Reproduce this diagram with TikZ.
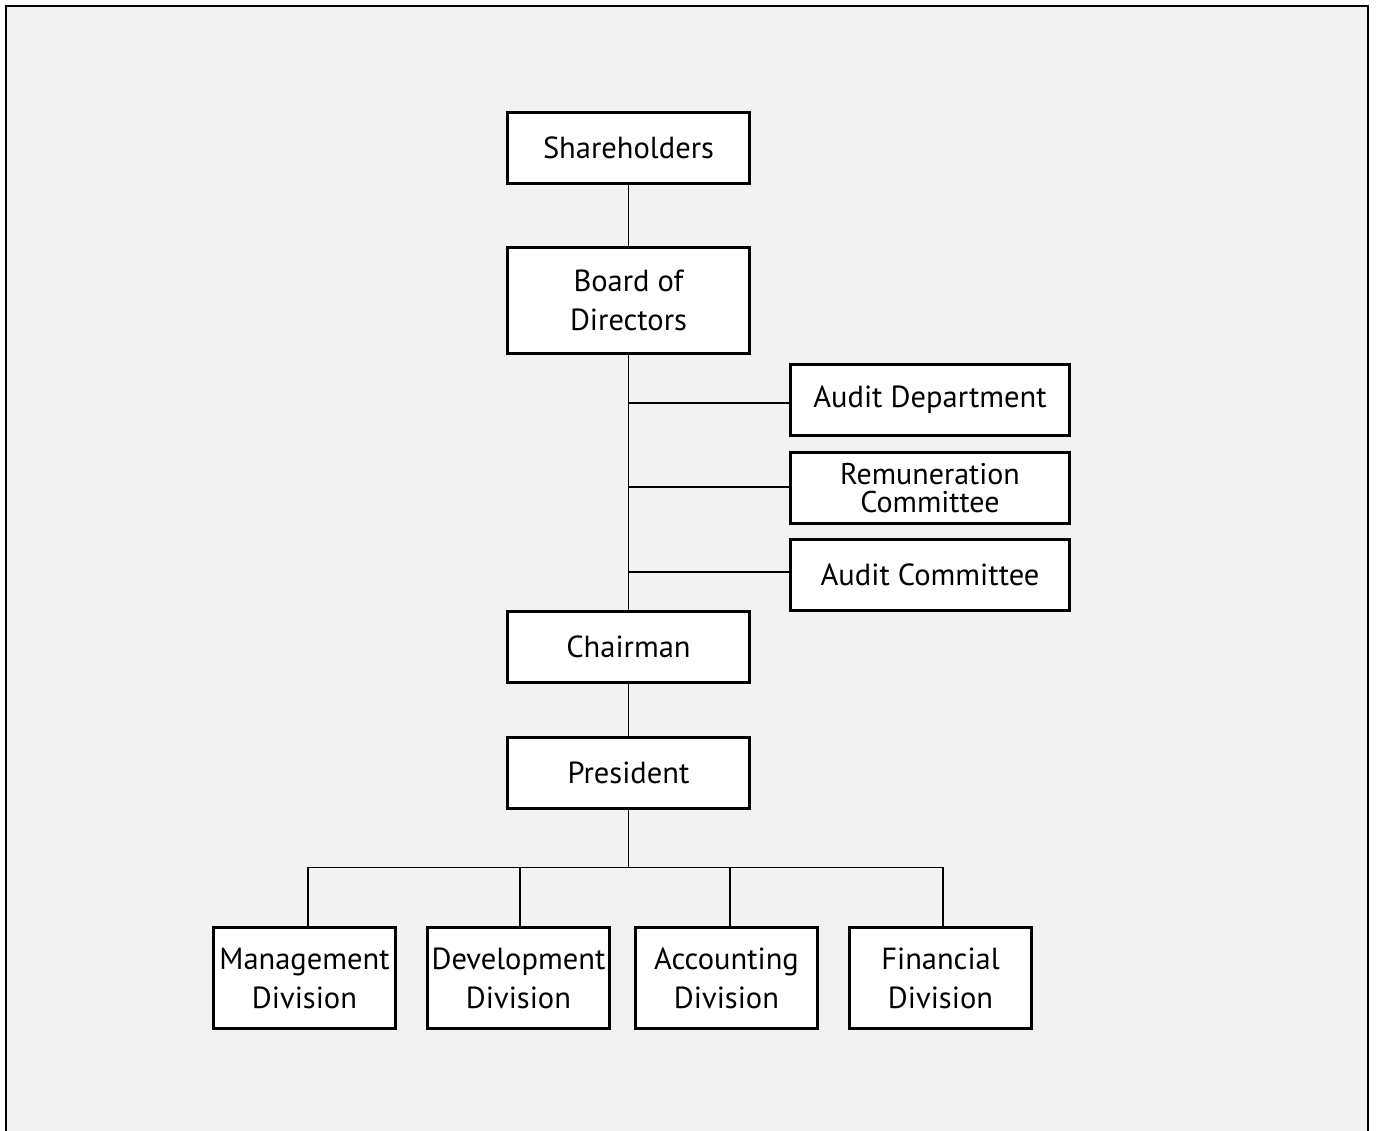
\documentclass[tikz,border=0pt]{standalone}
\usepackage{fontspec}
\newfontfamily\orgfont{PT Sans}
\usetikzlibrary{positioning}
\tikzset{
    orgbox/.style = {rectangle, line width=3pt, draw=black, fill=white, align=center, minimum width=242pt, minimum height=71pt, inner sep=0pt, font=\orgfont\fontsize{30.5}{39}\selectfont},
    orgboxc/.style = {orgbox, minimum width=279pt},
    orgboxd/.style = {orgbox, minimum width=182pt, minimum height=101pt},
    link/.style = {line width=1.3pt, draw=black}
}
\begin{document}
\begin{tikzpicture}[x=1pt,y=-1pt]
%
\path[use as bounding box] (0,0) rectangle (1378,1131);
\path[fill=black!5] (6,6) rectangle (1368,1131);
\draw[line width=2pt] (6,1131) -- (6,6) -- (1368,6) -- (1368,1131);
%
\node[orgbox] at (628.5,148) (share) {Shareholders};
\node[orgbox, minimum height=106pt] at (628.5,300.5) (board) {Board of\\Directors};
\node[orgboxc] at (930,400) (auddep) {Audit Department};
\node[orgboxc, font=\orgfont\fontsize{30}{27.5}\selectfont] at (930,488) (remun) {Remuneration\\Committee};
\node[orgboxc] at (930,575) (audcom) {Audit Committee};
\node[orgbox] at (628.5,647) (chair) {Chairman};
\node[orgbox] at (628.5,772.5) (pres) {President};
\node[orgboxd] at (304.5,978) (mgmt) {Management\\Division};
\node[orgboxd] at (518.5,978) (devel) {Development\\Division};
\node[orgboxd] at (726.5,978) (acct) {Accounting\\Division};
\node[orgboxd] at (940.5,978) (fin) {Financial\\Division};
%
\coordinate (bus) at ([yshift=-58pt]pres.south);
%
\draw[link] (share) -- (board);
\draw[link] (board) -- (chair);
\draw[link] ([yshift=-3pt]board.south |- auddep.west) -- ([yshift=-3pt]auddep.west);
\draw[link] ([yshift=1pt]board.south |- remun.west) -- ([yshift=1pt]remun.west);
\draw[link] ([yshift=3pt]board.south |- audcom.west) -- ([yshift=3pt]audcom.west);
\draw[link] (chair) -- (pres);
\draw[link] (pres) -- (bus);
\draw[link] (bus) -| ([xshift=3.5pt]mgmt.north);
\draw[link] (bus) -| ([xshift=1.5pt]devel.north);
\draw[link] (bus) -| ([xshift=3.5pt]acct.north);
\draw[link] (bus) -| ([xshift=2.5pt]fin.north);

\end{tikzpicture}
\end{document}
